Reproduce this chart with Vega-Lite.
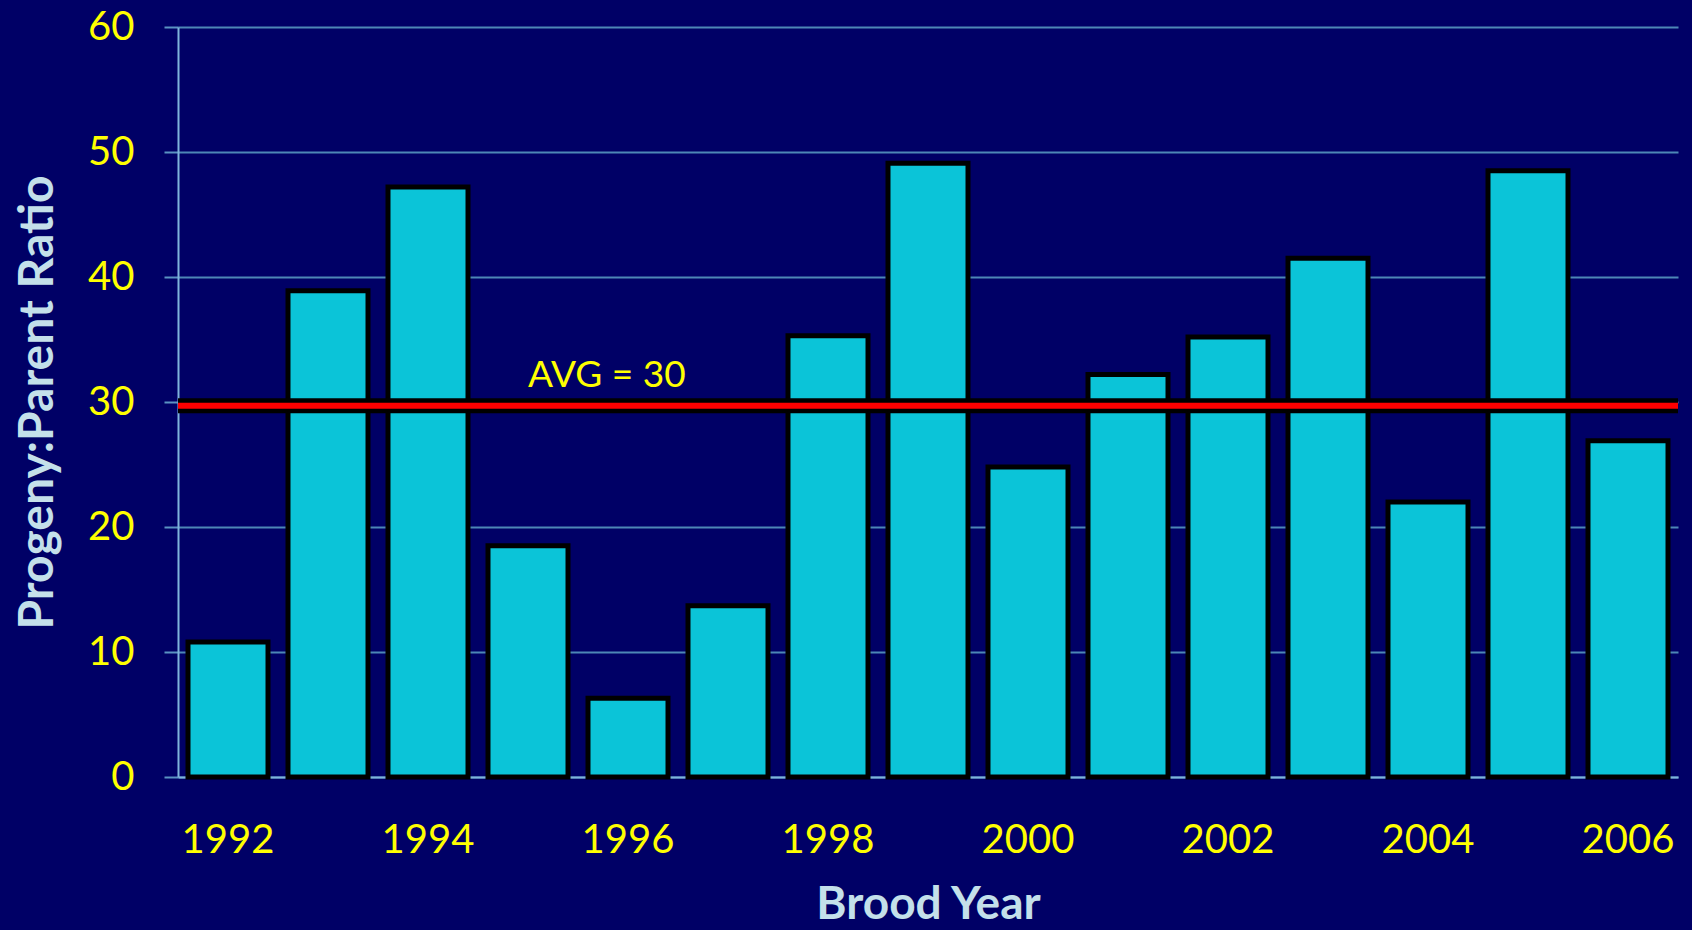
{
  "$schema": "https://vega.github.io/schema/vega-lite/v6.json",
  "width": 1500,
  "height": 750,
  "autosize": {"type": "none"},
  "padding": {"left": 178, "top": 27, "right": 14, "bottom": 153},
  "background": "#000066",
  "config": {"view": {"stroke": null}, "font": "Lato"},
  "datasets": {
    "bars": [
      {"year": 1992, "ratio": 10.8},
      {"year": 1993, "ratio": 38.9},
      {"year": 1994, "ratio": 47.2},
      {"year": 1995, "ratio": 18.5},
      {"year": 1996, "ratio": 6.3},
      {"year": 1997, "ratio": 13.7},
      {"year": 1998, "ratio": 35.3},
      {"year": 1999, "ratio": 49.1},
      {"year": 2000, "ratio": 24.8},
      {"year": 2001, "ratio": 32.2},
      {"year": 2002, "ratio": 35.2},
      {"year": 2003, "ratio": 41.5},
      {"year": 2004, "ratio": 22.0},
      {"year": 2005, "ratio": 48.5},
      {"year": 2006, "ratio": 26.9}
    ],
    "avg": [
      {"year": 1995, "ratio": 29.7, "label": "AVG = 30"}
    ]
  },
  "layer": [
    {
      "data": {"name": "bars"},
      "mark": {"type": "bar", "fill": "#0bc4d8", "stroke": "#000000", "strokeWidth": 5},
      "encoding": {
        "x": {
          "field": "year",
          "type": "ordinal",
          "scale": {"paddingInner": 0.2, "paddingOuter": 0.1},
          "axis": {
            "values": [1992, 1994, 1996, 1998, 2000, 2002, 2004, 2006],
            "ticks": false,
            "grid": false,
            "labelAngle": 0,
            "labelFont": "Lato",
            "labelFontSize": 40,
            "labelColor": "#ffff00",
            "labelPadding": 43,
            "domainColor": "#7fb4dc",
            "domainWidth": 2,
            "title": "Brood Year",
            "titleFont": "Lato",
            "titleFontSize": 46,
            "titleFontWeight": "bold",
            "titleColor": "#c4e0ea",
            "titleBaseline": "alphabetic",
            "titleY": 141
          }
        },
        "y": {
          "field": "ratio",
          "type": "quantitative",
          "scale": {"domain": [0, 60], "nice": false},
          "axis": {
            "values": [0, 10, 20, 30, 40, 50, 60],
            "labelFont": "Lato",
            "labelFontSize": 40,
            "labelColor": "#ffff00",
            "labelPadding": 30,
            "tickSize": 14,
            "tickWidth": 2,
            "tickColor": "#5a93c2",
            "domainColor": "#7fb4dc",
            "domainWidth": 2,
            "gridColor": "#4d87b6",
            "gridWidth": 2,
            "title": "Progeny:Parent Ratio",
            "titleFont": "Lato",
            "titleFontSize": 48,
            "titleFontWeight": "bold",
            "titleColor": "#c4e0ea",
            "titleAngle": -90,
            "titleAlign": "center",
            "titleBaseline": "alphabetic",
            "titleX": -126,
            "titleY": 375
          }
        }
      }
    },
    {
      "data": {"name": "avg"},
      "mark": {"type": "rule", "stroke": "#000000", "strokeWidth": 15},
      "encoding": {"y": {"field": "ratio", "type": "quantitative"}}
    },
    {
      "data": {"name": "avg"},
      "mark": {"type": "rule", "stroke": "#ff0000", "strokeWidth": 6},
      "encoding": {"y": {"field": "ratio", "type": "quantitative"}}
    },
    {
      "data": {"name": "avg"},
      "mark": {"type": "text", "font": "Lato", "fontSize": 37, "color": "#ffff00", "align": "left", "baseline": "alphabetic", "dy": -19},
      "encoding": {
        "x": {"field": "year", "type": "ordinal"},
        "y": {"field": "ratio", "type": "quantitative"},
        "text": {"field": "label"}
      }
    }
  ]
}
